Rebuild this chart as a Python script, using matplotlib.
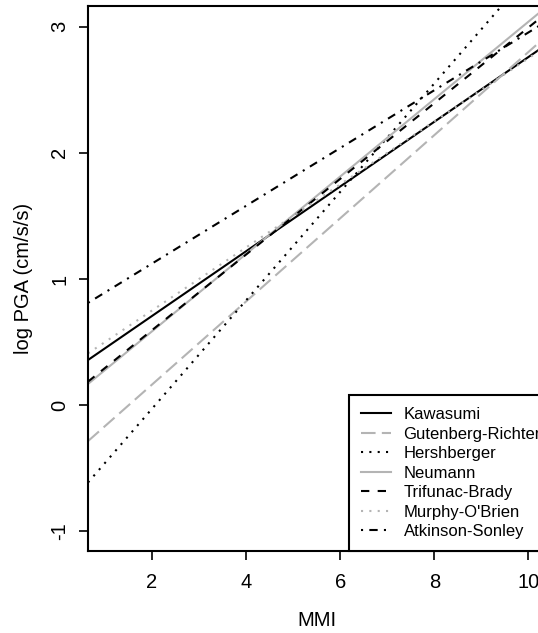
import matplotlib
matplotlib.use("Agg")
import matplotlib.pyplot as plt

plt.rcParams['font.family'] = ['Liberation Sans', 'DejaVu Sans']

mmi_ref = [1, 10]

labels = ["Kawasumi", "Gutenberg-Richter", "Hershberger", "Neumann",
          "Trifunac-Brady", "Murphy-O'Brien", "Atkinson-Sonley"]

# log PGA at MMI = 1 and MMI = 10
kawasumi = [0.45, 2.76]
gutenberg_richter = [-0.167, 2.80]
hershberger = [-0.459, 3.41]
neumann = [0.278, 3.04]
trifunac_brady = [0.294, 2.994]
murphy_obrien = [0.50, 2.75]
atkinson_sonley = [0.893, 2.955]

series = [kawasumi, gutenberg_richter, hershberger, neumann,
          trifunac_brady, murphy_obrien, atkinson_sonley]

grey = "#B4B4B4"
colors = ["black", grey, "black", grey, "black", grey, "black"]
styles = ["-", (0, (7, 3)), (0, (1, 3)), "-", (0, (4, 4)), (0, (1, 3)),
          (0, (1, 3, 4, 3))]

x_ticks = [2, 4, 6, 8, 10]
y_ticks = [-1, 0, 1, 2, 3]

W, H = 538, 633
fig = plt.figure(figsize=(W / 100, H / 100), dpi=100)
ax_left, ax_right, ax_top, ax_bot = 88, 545.3, 6, 551
ax = fig.add_axes([ax_left / W, (H - ax_bot) / H,
                   (ax_right - ax_left) / W, (ax_bot - ax_top) / H])

lw = 1.5
for ys, lab, c, ls in zip(series, labels, colors, styles):
    ax.axline((mmi_ref[0], ys[0]), (mmi_ref[1], ys[1]), color=c,
              linestyle=ls, linewidth=lw, label=lab)

ax.set_xlim(0.64, 10.36)
ax.set_ylim(-1.157, 3.165)
ax.set_xticks(x_ticks)
ax.set_xticklabels([str(v) for v in x_ticks])
ax.set_yticks(y_ticks)
ax.set_yticklabels([str(v) for v in y_ticks], rotation=90, va='center')

for s in ax.spines.values():
    s.set_linewidth(1.5)
ax.tick_params(axis='both', direction='out', length=6.5, width=1.2,
               labelsize=14.5, colors='black')
ax.tick_params(axis='x', pad=9)
ax.tick_params(axis='y', pad=7)

ax.set_xlabel("MMI", fontsize=14.5)
ax.xaxis.set_label_coords(0.5, (ax_bot - 620) / (ax_bot - ax_top))
ax.xaxis.label.set_va('center')
ax.set_ylabel("log PGA (cm/s/s)", fontsize=14.5)
ax.yaxis.set_label_coords((24 - ax_left) / (ax_right - ax_left), 0.5)
ax.yaxis.label.set_va('center')

leg = ax.legend(loc='lower left',
                bbox_to_anchor=((349 - ax_left) / (ax_right - ax_left), 0),
                borderaxespad=0, fontsize=12, handlelength=1.8,
                handletextpad=0.75, labelspacing=0.27, borderpad=0.72,
                fancybox=False, framealpha=1, edgecolor='black')
leg.get_frame().set_linewidth(1.5)

fig.savefig("out.png", dpi=100)
